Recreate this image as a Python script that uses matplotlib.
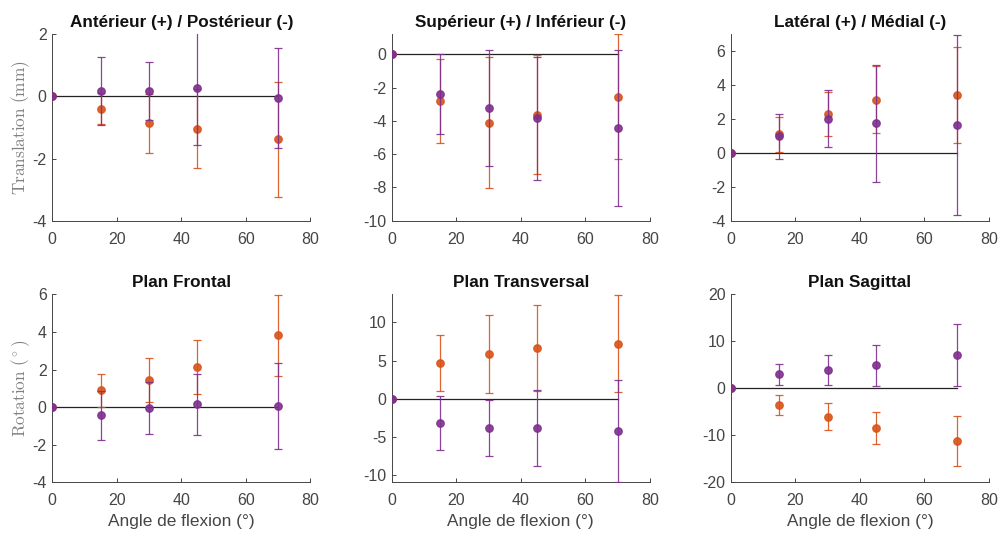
import numpy as np
import matplotlib
matplotlib.use("Agg")
import matplotlib.pyplot as plt

plt.rcParams['font.family'] = ['Liberation Sans', 'DejaVu Sans']
plt.rcParams['mathtext.fontset'] = 'cm'
plt.rcParams['axes.unicode_minus'] = False

angles = [0, 15, 30, 45, 70]

titles = ["Antérieur (+) / Postérieur (-)", "Supérieur (+) / Inférieur (-)",
          "Latéral (+) / Médial (-)", "Plan Frontal", "Plan Transversal", "Plan Sagittal"]

# mean / std, orange series
orange_mean = [
    [0, -0.39, -0.87, -1.04, -1.38],
    [0, -2.81, -4.10, -3.64, -2.55],
    [0, 1.10, 2.30, 3.15, 3.42],
    [0, 0.89, 1.45, 2.13, 3.81],
    [0, 4.70, 5.83, 6.61, 7.22],
    [0, -3.55, -6.03, -8.44, -11.28],
]
orange_std = [
    [0, 0.50, 0.95, 1.27, 1.86],
    [0, 2.52, 3.93, 3.57, 3.77],
    [0, 1.03, 1.28, 1.97, 2.84],
    [0, 0.89, 1.16, 1.42, 2.18],
    [0, 3.65, 5.10, 5.65, 6.37],
    [0, 2.13, 2.90, 3.50, 5.30],
]
# mean / std, purple series
purple_mean = [
    [0, 0.18, 0.18, 0.27, -0.05],
    [0, -2.38, -3.23, -3.84, -4.42],
    [0, 0.97, 2.03, 1.74, 1.64],
    [0, -0.44, -0.05, 0.14, 0.07],
    [0, -3.26, -3.91, -3.91, -4.30],
    [0, 2.98, 3.90, 4.89, 7.09],
]
purple_std = [
    [0, 1.09, 0.93, 1.83, 1.61],
    [0, 2.42, 3.46, 3.70, 4.67],
    [0, 1.32, 1.67, 3.44, 5.29],
    [0, 1.30, 1.39, 1.62, 2.28],
    [0, 3.56, 3.70, 5.00, 6.70],
    [0, 2.27, 3.20, 4.30, 6.70],
]

ylims = [(-4, 2), (-10, 1.2), (-4, 7), (-4, 6), (-11, 13.7), (-20, 20)]
yticks = [[-4, -2, 0, 2], [-10, -8, -6, -4, -2, 0], [-4, -2, 0, 2, 4, 6],
          [-4, -2, 0, 2, 4, 6], [-10, -5, 0, 5, 10], [-20, -10, 0, 10, 20]]

ORANGE = '#D95319'
PURPLE = '#7E2F8E'
AXC = '#454545'

fig = plt.figure(figsize=(10.02, 5.36), dpi=100)
lefts = [0.0522, 0.391, 0.7295]
w = 0.2575
rows = [(0.5882, 0.3478), (0.1002, 0.3507)]

for i in range(6):
    r, c = divmod(i, 3)
    ax = fig.add_axes([lefts[c], rows[r][0], w, rows[r][1]])
    ax.plot([0, 70], [0, 0], color='#222222', lw=0.9, zorder=1)
    ax.errorbar(angles, orange_mean[i], yerr=orange_std[i], fmt='o', color=ORANGE,
                ms=5.3, capsize=3, elinewidth=0.9, capthick=0.9, alpha=0.9, zorder=2)
    ax.errorbar(angles, purple_mean[i], yerr=purple_std[i], fmt='o', color=PURPLE,
                ms=5.3, capsize=3, elinewidth=0.9, capthick=0.9, alpha=0.9, zorder=3)
    ax.set_xlim(0, 80)
    ax.set_xticks([0, 20, 40, 60, 80])
    ax.set_ylim(*ylims[i])
    ax.set_yticks(yticks[i])
    ax.set_title(titles[i], fontsize=12.3, fontweight='bold', color='#111111', pad=5)
    for s in ['top', 'right']:
        ax.spines[s].set_visible(False)
    for s in ['left', 'bottom']:
        ax.spines[s].set_color(AXC)
        ax.spines[s].set_linewidth(0.7)
    ax.tick_params(direction='in', length=3, width=0.7, colors=AXC, labelsize=11.5)
    ax.tick_params(axis='x', pad=8)
    ax.tick_params(axis='y', pad=4)
    if c == 0:
        lab = r'$\mathrm{Translation\ (mm)}$' if r == 0 else r'$\mathrm{Rotation\ (^\circ)}$'
        ax.set_ylabel(lab, fontsize=12.4, color='#808080', labelpad=0)
    if r == 1:
        ax.set_xlabel('Angle de flexion (°)', fontsize=12.4, color=AXC, labelpad=4)

fig.savefig('out.png', dpi=100)
